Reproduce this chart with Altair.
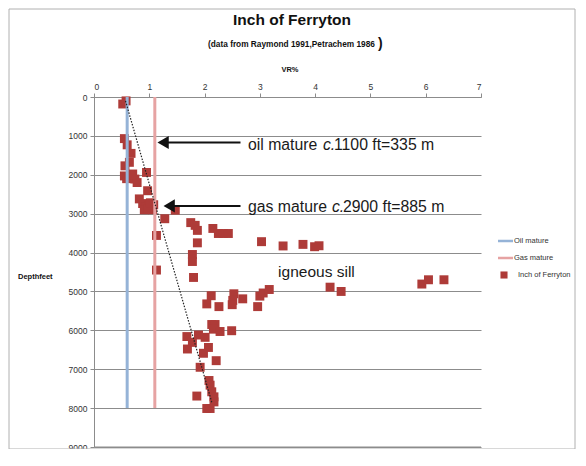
import altair as alt
import pandas as pd

# ---- data ----
vr = [0.52, 0.58, 0.55, 0.60, 0.67, 0.64, 0.56,
      0.55, 0.59, 0.70, 0.74, 0.78, 0.95, 0.67,
      0.97, 0.82, 0.88, 0.94, 0.91, 1.00, 1.08, 1.06, 0.98, 1.02,
      1.47, 1.28, 1.13, 1.13,
      1.75, 1.83, 1.87, 2.15, 2.25, 2.34, 2.43,
      1.87, 3.03, 3.42, 3.78, 3.99, 4.07,
      1.78, 1.78, 1.80,
      4.27, 4.47, 5.93, 6.05, 6.33,
      2.12, 2.04, 2.26, 2.53, 2.51, 2.50, 2.69, 2.96, 3.00, 3.06, 3.17,
      2.13, 2.19, 2.16, 2.28, 2.49, 1.68, 1.69, 1.89, 2.01, 1.98, 2.07, 1.78, 2.21, 1.92,
      2.08, 2.10, 2.13, 2.17, 2.17, 1.86, 2.04, 2.10]
depth = [180, 100, 1070, 1230, 1450, 1680, 1770,
         2030, 2100, 1980, 2110, 2200, 1940, 2000,
         2410, 2620, 2740, 2830, 2900, 2790, 2770, 2900, 2880, 2720,
         2910, 3130, 3560, 4450,
         3230, 3300, 3430, 3380, 3510, 3510, 3510,
         3750, 3720, 3830, 3790, 3850, 3825,
         4050, 4230, 4640,
         4890, 5000, 4810, 4700, 4700,
         5110, 5320, 5390, 5060, 5230, 5340, 5190, 5390, 5120, 5040, 4950,
         5850, 5850, 5970, 6030, 6010, 6160, 6480, 6120, 6180, 6590, 6440, 6310, 6780, 6950,
         7290, 7410, 7580, 7710, 7840, 7690, 8010, 8010]

oil_mature_vr = 0.6
gas_mature_vr = 1.1
mature_depth = [0, 8000]
trend_vr = [0.57, 2.13]
trend_depth = [100, 7850]

x_ticks = [0, 1, 2, 3, 4, 5, 6, 7]
y_ticks = [0, 1000, 2000, 3000, 4000, 5000, 6000, 7000, 8000, 9000]

# ---- tables ----
pts = pd.DataFrame({"vr": vr, "depth": depth})
oil = pd.DataFrame({"vr": [oil_mature_vr], "d0": [mature_depth[0]], "d1": [mature_depth[1]]})
gas = pd.DataFrame({"vr": [gas_mature_vr], "d0": [mature_depth[0]], "d1": [mature_depth[1]]})
trend = pd.DataFrame({"vr": trend_vr, "depth": trend_depth})
bottom_grid = pd.DataFrame({"x0": [x_ticks[0]], "x1": [x_ticks[-1]], "y": [y_ticks[-1]]})

arrows = pd.DataFrame({"x0": [1.30, 1.42], "x1": [2.65, 2.65], "y": [1170, 2800]})
heads = pd.DataFrame({"x": [1.25, 1.36], "y": [1170, 2800]})
ann = pd.DataFrame({"x": [2.785, 2.785], "y": [1230, 2840],
                    "a": ["oil mature", "gas mature"],
                    "c": ["c.", "c."],
                    "b": ["1100 ft=335 m", "2900 ft=885 m"],
                    "da": [0, 0], "dc": [75, 84], "db": [86, 95]})

BLUE = "#95B3D7"
PINK = "#E6A3A3"
RED = "#AE3B38"
FONT = "Liberation Sans"

xs = alt.Scale(domain=[0, 7], nice=False)
ys = alt.Scale(domain=[0, 9000], reverse=True, nice=False)

XA = alt.Axis(orient="top", values=x_ticks, format="d", title=None, tickCount=8,
              grid=False, labelFontSize=8.5, labelColor="#333",
              domainColor="#8c8c8c", tickColor="#8c8c8c",
              tickSize=4, labelPadding=2, labelFont=FONT)
YA = alt.Axis(values=y_ticks, title=None, format="d", tickCount=10, labelOverlap=False,
              grid=True, gridColor="#8c8c8c", gridWidth=1,
              labelFontSize=8.5, labelColor="#333",
              domainColor="#8c8c8c", tickColor="#8c8c8c",
              tickSize=4, labelPadding=3, labelFont=FONT)

def X(f):
    return alt.X(f, scale=xs, axis=XA)

def Y(f):
    return alt.Y(f, scale=ys, axis=YA)

points = alt.Chart(pts).mark_square(size=80, color=RED, opacity=1).encode(
    x=X("vr:Q"), y=Y("depth:Q"))

grid9000 = alt.Chart(bottom_grid).mark_rule(color="#8c8c8c", strokeWidth=1).encode(
    x=X("x0:Q"), x2="x1:Q", y=Y("y:Q"))

oil_line = alt.Chart(oil).mark_rule(color=BLUE, strokeWidth=3).encode(
    x=X("vr:Q"), y=Y("d0:Q"), y2="d1:Q")
gas_line = alt.Chart(gas).mark_rule(color=PINK, strokeWidth=3).encode(
    x=X("vr:Q"), y=Y("d0:Q"), y2="d1:Q")
trend_line = alt.Chart(trend).mark_line(color="#222", strokeWidth=1.2, strokeDash=[1.5, 1.5]).encode(
    x=X("vr:Q"), y=Y("depth:Q"))

arrow_lines = alt.Chart(arrows).mark_rule(color="#111", strokeWidth=2).encode(
    x=X("x0:Q"), x2="x1:Q", y=Y("y:Q"))
arrow_heads = alt.Chart(heads).mark_point(shape="triangle-left", filled=True, color="#111",
                                          size=170, opacity=1).encode(
    x=X("x:Q"), y=Y("y:Q"))

ANN_SIZE = 15.8

def ann_text(col, dcol, style):
    layers = []
    for i in range(len(ann)):
        row = ann.iloc[[i]]
        layers.append(alt.Chart(row).mark_text(align="left", baseline="middle", fontSize=ANN_SIZE,
                                               font=FONT, color="#1a1a1a", fontStyle=style,
                                               dx=float(row[dcol].iloc[0])).encode(
            x=X("x:Q"), y=Y("y:Q"), text=f"{col}:N"))
    return layers

txt_layers = ann_text("a", "da", "normal") + ann_text("c", "dc", "italic") + ann_text("b", "db", "normal")

sill = pd.DataFrame({"x": [3.33], "y": [4500], "t": ["igneous sill"]})
sill_text = alt.Chart(sill).mark_text(align="left", baseline="middle", fontSize=15.5, font=FONT,
                                      color="#1a1a1a").encode(
    x=X("x:Q"), y=Y("y:Q"), text="t:N")

# ---- decorations (pixel positions relative to the plot area) ----
def ptext(txt, x, y, size, bold=False, align="left", color="#111", font=FONT):
    return alt.Chart(pd.DataFrame({"t": [txt]})).mark_text(
        align=align, baseline="middle", fontSize=size, font=font,
        fontWeight="bold" if bold else "normal", color=color).encode(
        x=alt.value(x), y=alt.value(y), text="t:N")

title = ptext("Inch of Ferryton", 198, -77, 15.5, bold=True, align="center")
sub = ptext("(data from Raymond 1991,Petrachem 1986", 114, -52, 8.3, bold=True)
paren = ptext(")", 284, -53, 14, bold=True)
xtitle = ptext("VR%", 196, -27, 7.5, bold=True, align="center")
ytitle = ptext("Depthfeet", -76, 180, 7.5, bold=True)

leg_oil = alt.Chart(pd.DataFrame({"a": [0]})).mark_rule(color=BLUE, strokeWidth=2.5).encode(
    x=alt.value(404), x2=alt.value(419), y=alt.value(144))
leg_gas = alt.Chart(pd.DataFrame({"a": [0]})).mark_rule(color=PINK, strokeWidth=2.5).encode(
    x=alt.value(404), x2=alt.value(419), y=alt.value(161))
leg_sq = alt.Chart(pd.DataFrame({"a": [0]})).mark_square(size=50, color=RED, opacity=1).encode(
    x=alt.value(410), y=alt.value(178))
leg_t1 = ptext("Oil mature", 420, 144, 7.5, color="#333")
leg_t2 = ptext("Gas mature", 420, 161, 7.5, color="#333")
leg_t3 = ptext("Inch of Ferryton", 424, 178, 7.5, color="#333")

# outer frame as four thin rules
frame_rules = []
for (xa, xb, ya, yb) in [(-85, 481, -88, -88), (-85, 481, 352, 352),
                         (-85, -85, -88, 352), (481, 481, -88, 352)]:
    frame_rules.append(alt.Chart(pd.DataFrame({"a": [0]})).mark_rule(color="#b0b0b0", strokeWidth=1).encode(
        x=alt.value(xa), x2=alt.value(xb), y=alt.value(ya), y2=alt.value(yb)))

chart = alt.layer(
    points, oil_line, gas_line, trend_line,
    arrow_lines, arrow_heads, *txt_layers, sill_text,
    title, sub, paren, xtitle, ytitle,
    leg_oil, leg_gas, leg_sq, leg_t1, leg_t2, leg_t3, grid9000, *frame_rules
).properties(
    width=387, height=350, autosize="none",
    padding={"left": 86, "top": 89, "right": 95, "bottom": 2},
    background="white"
).configure_view(stroke=None)

chart.save("out.html", embed_options={"renderer": "svg", "actions": False})
